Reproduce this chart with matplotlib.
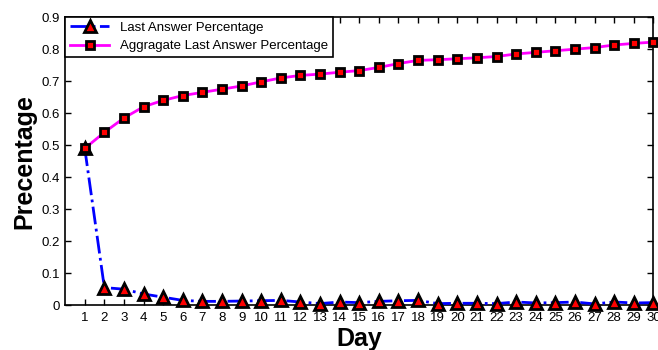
import matplotlib
matplotlib.use('Agg')
import matplotlib.pyplot as plt
import numpy as np

plt.rcParams['font.family'] = ['Liberation Sans', 'DejaVu Sans']

days = list(range(1, 31))
last_answer = [0.49, 0.055, 0.05, 0.035, 0.025, 0.015, 0.012, 0.012, 0.013, 0.014,
               0.015, 0.010, 0.005, 0.010, 0.008, 0.012, 0.014, 0.015, 0.005, 0.006,
               0.006, 0.005, 0.010, 0.007, 0.008, 0.010, 0.004, 0.010, 0.007, 0.008]
aggregate = [0.49, 0.54, 0.585, 0.62, 0.64, 0.655, 0.665, 0.675, 0.685, 0.698,
             0.71, 0.718, 0.722, 0.728, 0.733, 0.743, 0.755, 0.765, 0.767, 0.77,
             0.773, 0.777, 0.785, 0.79, 0.795, 0.80, 0.805, 0.813, 0.818, 0.822]
y_ticks = [0, 0.1, 0.2, 0.3, 0.4, 0.5, 0.6, 0.7, 0.8, 0.9]

fig = plt.figure(figsize=(6.58, 3.5), dpi=100)
ax = fig.add_axes([0.099, 0.128, 0.894, 0.823])

ax.plot(days, last_answer, '-.', color='blue', linewidth=2, marker='^', markersize=8.5,
        markerfacecolor='red', markeredgecolor='black', markeredgewidth=2,
        label='Last Answer Percentage', clip_on=False, zorder=3)
ax.plot(days, aggregate, '-', color='magenta', linewidth=2, marker='s', markersize=6,
        markerfacecolor='red', markeredgecolor='black', markeredgewidth=2,
        label='Aggragate Last Answer Percentage', clip_on=False, zorder=3)

ax.set_xlim(0, 30)
ax.set_ylim(0, 0.9)
ax.set_xticks(days)
ax.set_yticks(y_ticks)
ax.set_yticklabels([f'{v:g}' for v in y_ticks])
ax.tick_params(direction='in', top=True, right=True, labelsize=9.5, length=4, width=1)
ax.tick_params(axis='x', pad=5)
for s in ax.spines.values():
    s.set_linewidth(1.2)

ax.set_xlabel('Day', fontsize=18, fontweight='bold', labelpad=2)
ax.set_ylabel('Precentage', fontsize=18, fontweight='bold', labelpad=4)

leg = ax.legend(loc='upper left', fontsize=9.5, fancybox=False, edgecolor='black',
                framealpha=1, borderaxespad=0, handlelength=3, borderpad=0.35,
                labelspacing=0.45)
leg.get_frame().set_linewidth(1.2)

fig.savefig('out.png', dpi=100)
